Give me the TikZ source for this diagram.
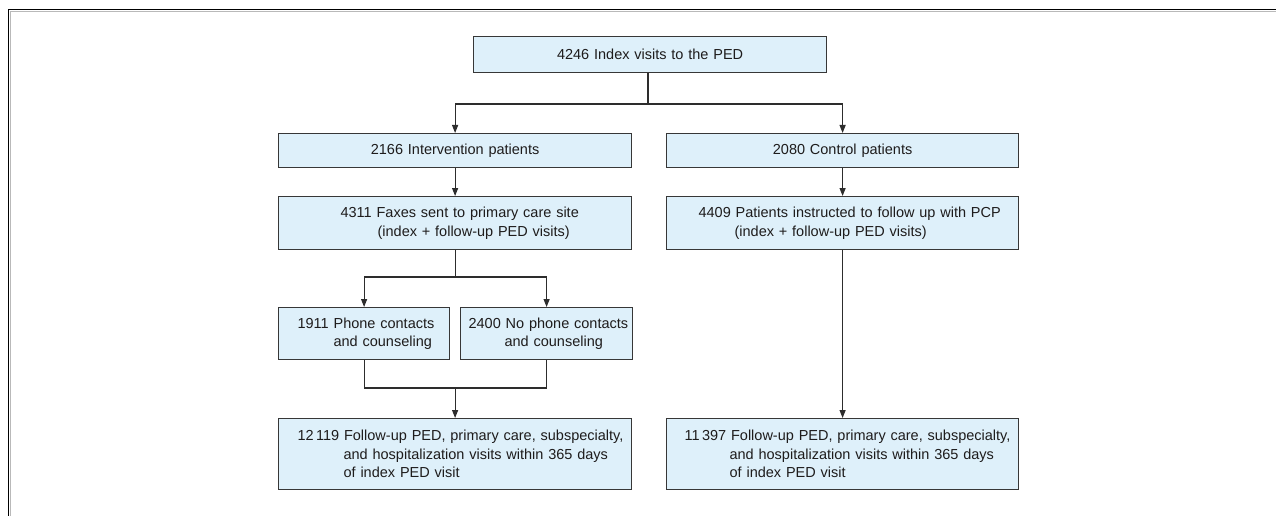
\documentclass[tikz,border=0pt]{standalone}
\usepackage{fontspec}
\setmainfont{Liberation Sans}
\usetikzlibrary{arrows.meta}
\definecolor{boxfill}{RGB}{222,240,250}
\definecolor{boxline}{RGB}{55,55,55}
\definecolor{txt}{RGB}{30,28,28}
\definecolor{conn}{RGB}{45,45,45}
\tikzset{
  flowbox/.style={draw=boxline, fill=boxfill, line width=1.2pt, inner sep=0pt,
    anchor=north west, text=txt, font=\fontsize{14.5}{18.3}\selectfont},
  leftbox/.style={flowbox, align=left},
  centerbox/.style={flowbox, align=center},
  link/.style={draw=conn, line width=1.2pt},
  arr/.style={link, -{Triangle[length=8pt,width=6pt]}}
}
\begin{document}
\begin{tikzpicture}[x=1pt,y=-1pt]
\useasboundingbox (0,0) rectangle (1276,516);
% frame
\draw[gray!55, line width=1pt] (10.4,516) -- (10.4,11.4) -- (1276,11.4);
\draw[black, line width=1.6pt] (8.5,516) -- (8.5,9.5) -- (1276,9.5);
% boxes
\node[centerbox, minimum width=353pt, text width=353pt, minimum height=36pt] (top) at (473,36) {4246 Index visits to the PED};
\node[centerbox, minimum width=353pt, text width=353pt, minimum height=34pt] (int) at (278,133) {2166 Intervention patients};
\node[centerbox, minimum width=352pt, text width=352pt, minimum height=34pt] (ctl) at (666,133) {2080 Control patients};
\node[leftbox, minimum width=353pt, text width=353pt, minimum height=53pt] (fax) at (278,196)
  {\hspace*{62pt}4311 Faxes sent to primary care site\\\hspace*{99pt}(index + follow-up PED visits)};
\node[leftbox, minimum width=352pt, text width=352pt, minimum height=53pt] (pcp) at (666,196)
  {\hspace*{32pt}4409 Patients instructed to follow up with PCP\\\hspace*{68pt}(index + follow-up PED visits)};
\node[leftbox, minimum width=171pt, text width=171pt, minimum height=52pt] (phone) at (278,307)
  {\hspace*{19pt}1911 Phone contacts\\\hspace*{55pt}and counseling};
\node[leftbox, minimum width=172pt, text width=172pt, minimum height=52pt] (nophone) at (460,307)
  {\hspace*{8pt}2400 No phone contacts\\\hspace*{44pt}and counseling};
\node[leftbox, minimum width=353pt, text width=353pt, minimum height=71pt] (bl) at (278,418)
  {\hspace*{19pt}12\,119 Follow-up PED, primary care, subspecialty,\\\hspace*{65pt}and hospitalization visits within 365 days\\\hspace*{65pt}of index PED visit};
\node[leftbox, minimum width=352pt, text width=352pt, minimum height=71pt] (br) at (666,418)
  {\hspace*{18pt}11\,397 Follow-up PED, primary care, subspecialty,\\\hspace*{63pt}and hospitalization visits within 365 days\\\hspace*{63pt}of index PED visit};
% junctions
\coordinate (j1) at (648,104);
\coordinate (j2) at (fax.south |- 0,277);
\coordinate (j3) at (bl.north |- 0,388);
% connectors
\draw[link] (top.south -| j1) -- (j1);
\draw[arr] (j1) -| (int.north);
\draw[arr] (j1) -| (ctl.north);
\draw[arr] (int.south) -- (fax.north);
\draw[arr] (ctl.south) -- (pcp.north);
\draw[link] (fax.south) -- (j2);
\draw[arr] (j2) -| (phone.north);
\draw[arr] (j2) -| (nophone.north);
\draw[link] (phone.south) -- (phone.south |- j3) -- (nophone.south |- j3) -- (nophone.south);
\draw[arr] (j3) -- (bl.north);
\draw[arr] (pcp.south) -- (br.north);
\end{tikzpicture}
\end{document}
